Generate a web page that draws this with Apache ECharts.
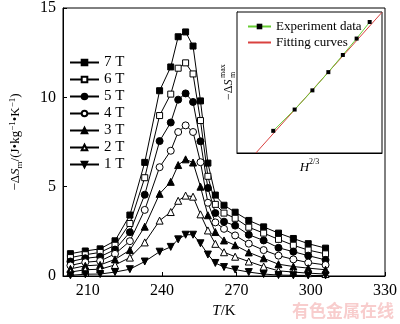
<!DOCTYPE html>
<html>
<head>
<meta charset="utf-8">
<script src="https://cdn.jsdelivr.net/npm/echarts@6/dist/echarts.min.js"></script>
<style>
html,body{margin:0;padding:0;background:#fff;}
#c{width:400px;height:324px;}
</style>
</head>
<body>
<div id="c"></div>
<script>
// ---- data ----
const temps = [203, 209, 215, 221, 227, 233, 239, 243.5, 246.5, 249.5, 252.5, 255.5, 258.5, 261.5, 265, 269.5, 275, 281, 287, 293, 299, 306];
const fieldNames = ['7 T', '6 T', '5 T', '4 T', '3 T', '2 T', '1 T'];
const s7T = [1.25, 1.40, 1.52, 1.97, 3.41, 6.36, 10.37, 11.70, 13.39, 13.66, 12.87, 9.80, 6.32, 4.53, 3.96, 3.57, 3.11, 2.75, 2.40, 2.10, 1.81, 1.56];
const s6T = [1.03, 1.19, 1.32, 1.72, 2.94, 5.50, 8.98, 10.18, 11.63, 11.93, 11.31, 8.70, 5.58, 4.01, 3.52, 3.23, 2.73, 2.40, 2.05, 1.72, 1.45, 1.24];
const s5T = [0.81, 0.99, 1.08, 1.48, 2.45, 4.55, 7.55, 8.59, 9.87, 10.22, 9.74, 7.54, 4.93, 3.52, 3.04, 2.82, 2.31, 1.99, 1.58, 1.36, 1.14, 0.90];
const s4T = [0.59, 0.77, 0.84, 1.24, 1.95, 3.70, 6.09, 7.01, 8.06, 8.43, 8.06, 6.37, 4.10, 3.00, 2.64, 2.27, 1.81, 1.45, 1.14, 0.93, 0.75, 0.62];
const s3T = [0.40, 0.57, 0.62, 0.93, 1.45, 2.76, 4.60, 5.27, 6.21, 6.53, 6.35, 5.00, 3.40, 2.46, 1.99, 1.72, 1.32, 0.99, 0.66, 0.53, 0.44, 0.35];
const s2T = [0.22, 0.35, 0.38, 0.62, 1.03, 1.88, 3.10, 3.58, 4.21, 4.50, 4.44, 3.45, 2.55, 1.80, 1.33, 1.08, 0.81, 0.53, 0.29, 0.22, 0.16, 0.11];
const s1T = [0.04, 0.10, 0.11, 0.22, 0.38, 0.81, 1.36, 1.63, 2.05, 2.31, 2.31, 1.83, 1.20, 0.73, 0.50, 0.36, 0.22, 0.11, 0.05, 0.04, 0.03, 0.03];
const xTicks = [210, 240, 270, 300, 330];
const yTicks = [0, 5, 10, 15];
// inset
const insetH23 = [1.00, 1.59, 2.08, 2.52, 2.92, 3.30, 3.66];
const insetDSmax = [2.31, 4.53, 6.53, 8.43, 10.22, 11.93, 13.66];
const fitH23 = [0.52, 4.00];
const fitDS = [0.00, 14.67];
const insetNames = ['Experiment data', 'Fitting curves'];
const watermark = '有色金属在线';

// ---- styles ----
const serif = 'Liberation Serif';
const seriesVals = [s7T, s6T, s5T, s4T, s3T, s2T, s1T];
const symbols = [
  {symbol: 'rect', fill: '#000', rot: 0},
  {symbol: 'rect', fill: '#fff', rot: 0},
  {symbol: 'circle', fill: '#000', rot: 0},
  {symbol: 'circle', fill: '#fff', rot: 0},
  {symbol: 'triangle', fill: '#000', rot: 0},
  {symbol: 'triangle', fill: '#fff', rot: 0},
  {symbol: 'triangle', fill: '#000', rot: 180}
];

const mainSeries = seriesVals.map((vals, i) => ({
  name: fieldNames[i],
  type: 'line',
  xAxisIndex: 0, yAxisIndex: 0,
  data: temps.map((t, j) => [t, vals[j]]),
  symbol: symbols[i].symbol,
  symbolSize: symbols[i].symbol === 'rect' ? 6 : 7,
  symbolRotate: symbols[i].rot,
  showAllSymbol: true,
  lineStyle: {color: '#000', width: 1},
  itemStyle: {color: symbols[i].fill, borderColor: '#000', borderWidth: 1},
  emphasis: {disabled: true},
  z: 3
}));

const chart = echarts.init(document.getElementById('c'), null, {renderer: 'canvas'});
chart.setOption({
  animation: false,
  backgroundColor: '#fff',
  grid: [
    {left: 52, top: 5, width: 336, height: 273, show: true, borderColor: '#000', borderWidth: 1, backgroundColor: 'transparent'},
    {left: 237, top: 12, width: 145, height: 141, show: true, borderColor: '#000', borderWidth: 1, backgroundColor: '#fff', z: 5}
  ],
  legend: [
    {
      data: fieldNames,
      orient: 'vertical',
      left: 64, top: 50,
      itemWidth: 29, itemHeight: 7, itemGap: 2,
      textStyle: {fontFamily: serif, fontSize: 15, color: '#000'},
      selectedMode: false
    },
    {
      data: [{name: insetNames[0]}, {name: insetNames[1], itemStyle: {opacity: 0}}],
      orient: 'vertical',
      left: 242, top: 15,
      itemWidth: 23, itemHeight: 7, itemGap: 3,
      textStyle: {fontFamily: serif, fontSize: 13, color: '#000'},
      selectedMode: false,
      z: 10
    }
  ],
  xAxis: [
    {
      gridIndex: 0, type: 'value', min: 200, max: 330,
      axisLine: {show: true, lineStyle: {color: '#000', width: 1}},
      axisTick: {show: true, inside: true, length: 4, customValues: xTicks, lineStyle: {color: '#000'}},
      axisLabel: {customValues: xTicks, fontFamily: serif, fontSize: 16, color: '#000', margin: 7},
      splitLine: {show: false},
      name: '{i|T}/K',
      nameLocation: 'middle', nameGap: 28,
      nameTextStyle: {fontFamily: serif, fontSize: 15, color: '#000', rich: {i: {fontFamily: serif, fontSize: 15, fontStyle: 'italic', color: '#000'}}}
    },
    {
      gridIndex: 1, type: 'value', min: 0, max: 4,
      axisLine: {show: true, lineStyle: {color: '#000'}},
      axisTick: {show: false}, axisLabel: {show: false}, splitLine: {show: false},
      name: '{i|H}{sup|2/3}',
      nameLocation: 'middle', nameGap: 5,
      nameTextStyle: {fontFamily: serif, fontSize: 13, color: '#000',
        rich: {i: {fontFamily: serif, fontSize: 13, fontStyle: 'italic', color: '#000', verticalAlign: 'bottom', lineHeight: 16},
               sup: {fontFamily: serif, fontSize: 8, color: '#000', verticalAlign: 'top', lineHeight: 16}}}
    }
  ],
  yAxis: [
    {
      gridIndex: 0, type: 'value', min: 0, max: 15, interval: 5,
      axisLine: {show: true, lineStyle: {color: '#000', width: 1}},
      axisTick: {show: true, inside: true, length: 4, lineStyle: {color: '#000'}},
      axisLabel: {fontFamily: serif, fontSize: 16, color: '#000', margin: 7},
      splitLine: {show: false},
      name: '−Δ{i|S}{sub|m}/(J•kg{sup|−1}•K{sup|−1})',
      nameLocation: 'middle', nameGap: 39, nameRotate: 90,
      nameTextStyle: {fontFamily: serif, fontSize: 13, color: '#000', lineHeight: 16,
        rich: {
          i: {fontFamily: serif, fontSize: 13, fontStyle: 'italic', color: '#000', lineHeight: 16},
          sub: {fontFamily: serif, fontSize: 9, color: '#000', verticalAlign: 'bottom', lineHeight: 16},
          sup: {fontFamily: serif, fontSize: 9, color: '#000', verticalAlign: 'top', lineHeight: 16}
        }}
    },
    {
      gridIndex: 1, type: 'value', min: 0, max: 14.7,
      axisLine: {show: true, lineStyle: {color: '#000'}},
      axisTick: {show: false}, axisLabel: {show: false}, splitLine: {show: false}
    }
  ],
  graphic: [
    {
      type: 'group', x: 229, y: 100, rotation: Math.PI / 2, z: 20,
      children: [
        {type: 'text', x: 0, y: 0, style: {text: '−Δ{i|S}', fontFamily: serif, fontSize: 12, fill: '#000', textAlign: 'left', textVerticalAlign: 'middle',
          rich: {i: {fontFamily: serif, fontSize: 12, fontStyle: 'italic', fill: '#000'}}}},
        {type: 'text', x: 22, y: -6, style: {text: 'max', fontFamily: serif, fontSize: 8, fill: '#000', textAlign: 'left', textVerticalAlign: 'middle'}},
        {type: 'text', x: 22, y: 4, style: {text: 'm', fontFamily: serif, fontSize: 8, fill: '#000', textAlign: 'left', textVerticalAlign: 'middle'}}
      ]
    },
    {
      type: 'text', left: 292, top: 302, z: 20,
      style: {text: watermark, fontFamily: 'Noto Sans CJK SC', fontSize: 17, fontWeight: 'bold', fill: '#f8cdcd'}
    }
  ],
  series: mainSeries.concat([
    {
      name: insetNames[1], type: 'line', xAxisIndex: 1, yAxisIndex: 1,
      data: fitH23.map((x, i) => [x, fitDS[i]]),
      symbol: 'none', showSymbol: false,
      lineStyle: {color: '#d9413f', width: 1},
      itemStyle: {color: '#d9413f'},
      emphasis: {disabled: true}, z: 6
    },
    {
      name: insetNames[0], type: 'line', xAxisIndex: 1, yAxisIndex: 1,
      data: insetH23.map((x, i) => [x, insetDSmax[i]]),
      symbol: 'rect', symbolSize: 4,
      lineStyle: {color: '#66cc33', width: 1},
      itemStyle: {color: '#000'},
      emphasis: {disabled: true}, z: 7
    }
  ])
});
</script>
</body>
</html>
